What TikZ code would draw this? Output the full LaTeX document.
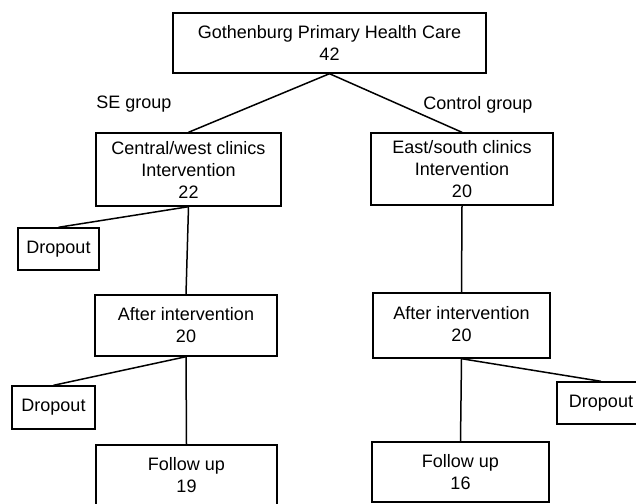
\documentclass[tikz,border=0pt]{standalone}
\usepackage{fontspec}
\setmainfont{Liberation Sans}
\usepackage{tikz}

\begin{document}
\begin{tikzpicture}[x=1pt,y=1pt,
  box/.style={draw,line width=1.4pt,align=center,inner sep=0pt,font=\fontsize{18}{22}\selectfont},
  lab/.style={font=\fontsize{18}{22}\selectfont},
  link/.style={line width=1.5pt}]
\useasboundingbox (0,0) rectangle (636,-503);
\node[box,minimum width=313pt,minimum height=60pt] (gpc) at (329.5,-43) {Gothenburg Primary Health Care\\42};
\node[box,minimum width=185pt,minimum height=73pt] (cw) at (188.5,-169.5) {Central/west clinics\\Intervention\\22};
\node[box,minimum width=182pt,minimum height=72pt] (es) at (462,-169) {East/south clinics\\Intervention\\20};
\node[box,minimum width=81pt,minimum height=42pt] (drop1) at (58.5,-249) {Dropout};
\node[box,minimum width=182pt,minimum height=61pt] (after1) at (186,-325.5) {After intervention\\20};
\node[box,minimum width=177pt,minimum height=65pt,text depth=4pt] (after2) at (461.5,-325.5) {After intervention\\20};
\node[box,minimum width=83pt,minimum height=43pt] (drop2) at (53.5,-407.5) {Dropout};
\node[box,minimum width=88pt,minimum height=42pt] (drop3) at (601,-403) {Dropout};
\node[box,minimum width=181pt,minimum height=60pt] (fu1) at (186.5,-475) {Follow up\\19};
\node[box,minimum width=177pt,minimum height=60pt] (fu2) at (460.5,-472) {Follow up\\16};
\node[lab] (se) at (134,-104) {SE group};
\node[lab] (ctrl) at (478,-105) {Control group};
\draw[link] (gpc.south)--(cw.north);
\draw[link] (gpc.south)--(es.north);
\draw[link] (cw.south)--(drop1.north);
\draw[link] (cw.south)--(after1.north);
\draw[link] (after1.south)--(drop2.north);
\draw[link] (after1.south)--(fu1.north);
\draw[link] (es.south)--(after2.north);
\draw[link] (after2.south)--(fu2.north);
\draw[link] (after2.south)--(drop3.north);
\end{tikzpicture}
\end{document}
